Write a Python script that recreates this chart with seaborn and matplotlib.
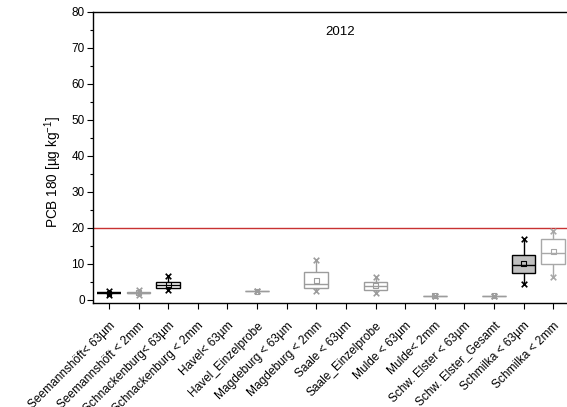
import numpy as np
import pandas as pd
import matplotlib
matplotlib.use("Agg")
import matplotlib.pyplot as plt
from matplotlib.ticker import MultipleLocator
from matplotlib.transforms import ScaledTranslation
import seaborn as sns

# Sampling sites / fractions (PCB 180, 2012)
categories = [
    "Seemannshöft< 63µm", "Seemannshöft < 2mm", "Schnackenburg< 63µm",
    "Schnackenburg < 2mm", "Havel< 63µm", "Havel_Einzelprobe",
    "Magdeburg < 63µm", "Magdeburg < 2mm", "Saale < 63µm",
    "Saale_Einzelprobe", "Mulde < 63µm", "Mulde< 2mm",
    "Schw. Elster < 63µm", "Schw. Elster_Gesamt", "Schmilka < 63µm",
    "Schmilka < 2mm",
]

# Box statistics per category (NaN = no data)
v_min    = [1.3, 1.4, 2.6, np.nan, np.nan, 2.3, np.nan, 2.5, np.nan, 1.9, np.nan, 1.1, np.nan, 1.1, 4.4, 6.3]
v_q1     = [1.75, 1.85, 3.4, np.nan, np.nan, 2.3, np.nan, 3.2, np.nan, 2.6, np.nan, 1.1, np.nan, 1.1, 7.4, 10.0]
v_median = [1.8, 2.0, 4.1, np.nan, np.nan, 2.3, np.nan, 4.3, np.nan, 3.7, np.nan, 1.1, np.nan, 1.1, 9.7, 13.1]
v_q3     = [1.85, 2.15, 4.8, np.nan, np.nan, 2.3, np.nan, 7.7, np.nan, 5.0, np.nan, 1.1, np.nan, 1.1, 12.5, 17.0]
v_max    = [2.3, 2.6, 6.6, np.nan, np.nan, 2.3, np.nan, 11.1, np.nan, 6.2, np.nan, 1.1, np.nan, 1.1, 16.9, 19.1]
v_mean   = [1.8, 2.0, 4.2, np.nan, np.nan, 2.3, np.nan, 5.3, np.nan, 4.0, np.nan, 1.1, np.nan, 1.1, 10.05, 13.4]

threshold = 20
year_label = "2012"

# Drawing style per category: (edge colour, fill colour, line width)
GRAY = "#9c9c9c"
styles = [
    ("black", "white", 1.6), (GRAY, "white", 1.0), ("black", "white", 1.0),
    (GRAY, "white", 1.0), (GRAY, "white", 1.0), (GRAY, "white", 1.0),
    (GRAY, "white", 1.0), (GRAY, "white", 1.0), (GRAY, "white", 1.0),
    (GRAY, "white", 1.0), (GRAY, "white", 1.0), (GRAY, "white", 1.0),
    (GRAY, "white", 1.0), (GRAY, "white", 1.0), ("black", "#c0c0c0", 1.0),
    ("#a8a8a8", "white", 1.0),
]

# Five-point sets reproduce the box statistics exactly (min, q1, median, q3, max)
rows = []
for c, a, b, m, d, e in zip(categories, v_min, v_q1, v_median, v_q3, v_max):
    if np.isnan(m):
        continue
    for v in (a, b, m, d, e):
        rows.append({"site": c, "value": v})
df = pd.DataFrame(rows)
ext = pd.DataFrame({"site": categories * 2, "value": v_min + v_max}).dropna()
means = pd.DataFrame({"site": categories, "value": v_mean}).dropna()

sns.set_theme(style="ticks")
plt.rcParams["font.family"] = ["Liberation Sans", "DejaVu Sans"]
plt.rcParams["mathtext.fontset"] = "custom"
plt.rcParams["mathtext.rm"] = "Liberation Sans"
plt.rcParams["mathtext.default"] = "regular"

fig = plt.figure(figsize=(5.67, 4.07), dpi=100)
ax = fig.add_axes([93 / 567, 1 - 303 / 407, 475 / 567, 291 / 407])

for c, (edge, fill, lw) in zip(categories, styles):
    sub = df[df["site"] == c]
    if sub.empty:
        continue
    sns.boxplot(data=sub, x="site", y="value", order=categories, whis=(0, 100),
                width=0.8, color=fill, linecolor=edge, linewidth=lw,
                saturation=1, showcaps=False, fliersize=0, ax=ax)
    sns.stripplot(data=ext[ext["site"] == c], x="site", y="value", order=categories,
                  jitter=False, marker="x", color=edge, size=4, linewidth=1.2, ax=ax)
    sns.stripplot(data=means[means["site"] == c], x="site", y="value", order=categories,
                  jitter=False, marker="s", color="none", edgecolor=edge, size=3.5,
                  linewidth=0.8, ax=ax)

ax.axhline(threshold, color="#c83232", lw=1.0, zorder=1)
ax.text(7.8, 74.5, year_label, ha="center", va="center", fontsize=9.5,
        color="black")

ax.set_xlim(-0.54, 15.5)
ax.set_ylim(-0.9, 80)
ax.yaxis.set_major_locator(MultipleLocator(10))
ax.yaxis.set_minor_locator(MultipleLocator(5))
ax.set_xticks(range(len(categories)))
ax.set_xticklabels(categories, rotation=45, ha="right", rotation_mode="anchor",
                   fontsize=8.6, color="black")
shift = ScaledTranslation(-4 / 100, 0, fig.dpi_scale_trans)
for lab in ax.get_xticklabels():
    lab.set_transform(lab.get_transform() + shift)
ax.tick_params(axis="y", which="major", length=4, width=0.8, labelsize=8.5, pad=2,
               labelcolor="black", color="black")
ax.tick_params(axis="y", which="minor", length=2.5, width=0.8, color="black")
ax.tick_params(axis="x", length=4, width=0.8, pad=8, color="black")
for s in ax.spines.values():
    s.set_linewidth(1.0)
    s.set_color("black")
ax.set_xlabel("")
ax.set_ylabel("PCB 180 [µg kg$^{-1}$]", fontsize=9.8, color="black")
ax.yaxis.set_label_coords(-0.062, 0.45)

fig.savefig("out.png", dpi=100)
